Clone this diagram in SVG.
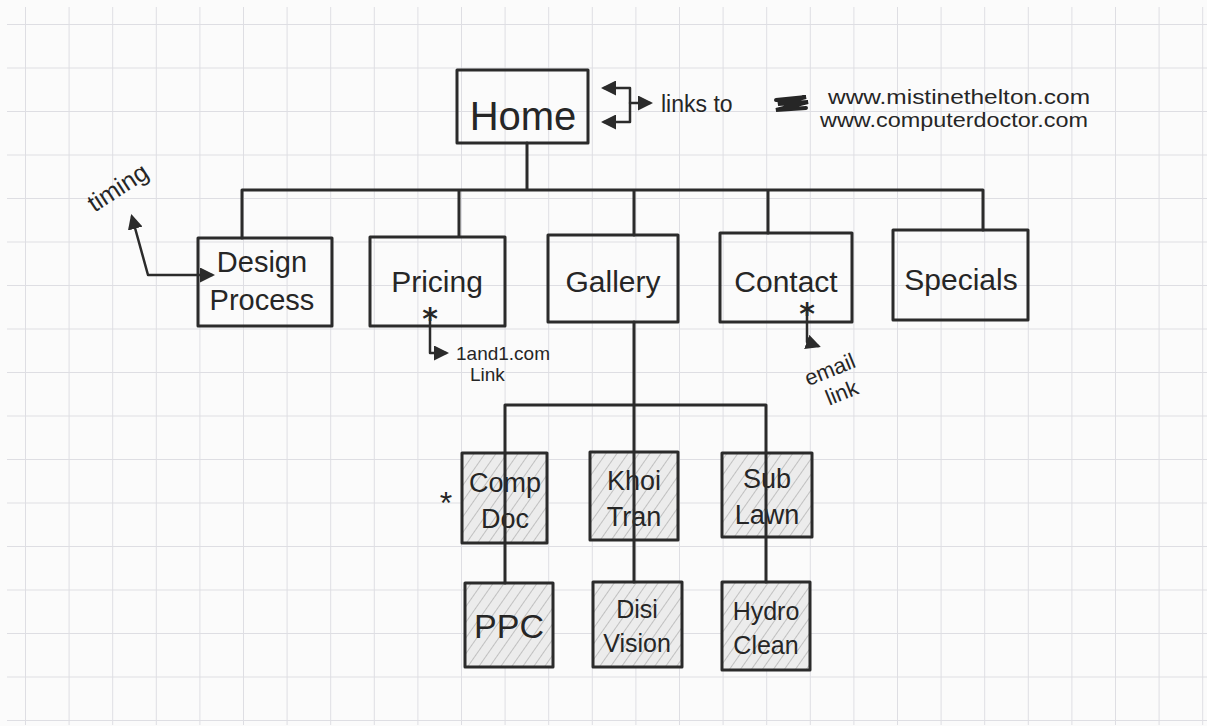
<svg xmlns="http://www.w3.org/2000/svg" width="1207" height="726" viewBox="0 0 1207 726">
<defs>
<pattern id="grid" patternUnits="userSpaceOnUse" x="25" y="24" width="43.6" height="43.5">
<path d="M0 0V43.5M0 0H43.6" fill="none" stroke="#dedee3" stroke-width="2"/>
</pattern>
<pattern id="hatch" patternUnits="userSpaceOnUse" width="9" height="9" patternTransform="rotate(35)">
<line x1="0" y1="0" x2="0" y2="9" stroke="#b5b5b5" stroke-width="1.6"/>
</pattern>
<marker id="ah" viewBox="0 0 10 10" refX="8" refY="5" markerWidth="6" markerHeight="6" orient="auto-start-reverse" markerUnits="strokeWidth">
<path d="M0 0L10 5L0 10Z" fill="#2b2b2b"/>
</marker>
<style>
.box{fill:none;stroke:#2b2b2b;stroke-width:3;stroke-linejoin:round}
.sub{fill:#ececec;stroke:none}
.hat{fill:url(#hatch);stroke:none}
.ln{fill:none;stroke:#2b2b2b;stroke-width:3;stroke-linecap:round;stroke-linejoin:round}
.an{fill:none;stroke:#2b2b2b;stroke-width:2.5;stroke-linecap:round;stroke-linejoin:round}
.t{font-family:"Liberation Sans","DejaVu Sans",sans-serif;fill:#262626;text-anchor:middle}
.lbl{font-size:30px}
.sm{font-size:27px}
.sm2{font-size:25px}
.note{font-family:"Liberation Sans","DejaVu Sans",sans-serif;fill:#262626}
.star{font-family:"DejaVu Sans",sans-serif;fill:#262626;text-anchor:middle;font-weight:bold}
</style>
</defs>
<rect x="0" y="0" width="1207" height="726" fill="#fbfbfb"/>
<rect x="7" y="7" width="1200" height="718" fill="url(#grid)"/>

<g id="home">
<rect class="box" x="457" y="70" width="131" height="73"/>
<text class="t" x="523" y="130" style="font-size:40px">Home</text>
</g>
<g id="home-links">
<path class="an" d="M604 88H630V122H604" marker-start="url(#ah)" marker-end="url(#ah)"/>
<path class="an" d="M630 103H650" marker-end="url(#ah)"/>
<text class="note" x="661" y="112" style="font-size:23px">links to</text>
<path d="M776 100L806 97L778 104L808 102L776 110L806 108" fill="none" stroke="#262626" stroke-width="4" stroke-linecap="round"/>
<text class="note" x="828" y="104" style="font-size:20px" textLength="262" lengthAdjust="spacingAndGlyphs">www.mistinethelton.com</text>
<text class="note" x="820" y="127" style="font-size:20px" textLength="268" lengthAdjust="spacingAndGlyphs">www.computerdoctor.com</text>
</g>

<g id="design">
<rect class="box" x="198" y="238" width="134" height="88"/>
<text class="t" x="262" y="272" style="font-size:29px">Design</text>
<text class="t" x="262" y="310" style="font-size:29px">Process</text>
</g>
<g id="timing">
<path class="an" d="M132 217L148 275H212" marker-start="url(#ah)" marker-end="url(#ah)"/>
<text class="note" x="118" y="196" style="font-size:25px" text-anchor="middle" transform="rotate(-33 118 188)">timing</text>
</g>

<g id="pricing">
<rect class="box" x="370" y="237" width="135" height="89"/>
<text class="t lbl" x="437" y="292">Pricing</text>
</g>
<g id="pricing-link">
<text class="star" x="430" y="329" style="font-size:30px">*</text>
<path class="an" d="M430 318V353H446" marker-end="url(#ah)"/>
<text class="note" x="456" y="360" style="font-size:19px">1and1.com</text>
<text class="note" x="470" y="381" style="font-size:19px">Link</text>
</g>

<g id="gallery">
<rect class="box" x="548" y="235" width="130" height="87"/>
<text class="t lbl" x="613" y="292">Gallery</text>
</g>

<g id="contact">
<rect class="box" x="720" y="233" width="132" height="89"/>
<text class="t lbl" x="786" y="292">Contact</text>
</g>
<g id="contact-link">
<text class="star" x="807" y="324" style="font-size:30px">*</text>
<path class="an" d="M807 312V342L818 346" marker-end="url(#ah)"/>
<text class="note" x="830" y="377" style="font-size:22px" text-anchor="middle" transform="rotate(-22 830 370)">email</text>
<text class="note" x="842" y="400" style="font-size:22px" text-anchor="middle" transform="rotate(-22 842 393)">link</text>
</g>

<g id="specials">
<rect class="box" x="893" y="230" width="135" height="90"/>
<text class="t lbl" x="961" y="290">Specials</text>
</g>

<g id="compdoc">
<rect class="sub" x="462" y="453" width="85" height="90"/>
<rect class="hat" x="462" y="453" width="85" height="90"/>
<rect class="box" x="462" y="453" width="85" height="90"/>
<text class="t sm" x="505" y="492">Comp</text>
<text class="t sm" x="505" y="528">Doc</text>
<text class="t" x="446" y="514" style="font-size:32px">*</text>
</g>
<g id="khoitran">
<rect class="sub" x="590" y="452" width="88" height="88"/>
<rect class="hat" x="590" y="452" width="88" height="88"/>
<rect class="box" x="590" y="452" width="88" height="88"/>
<text class="t sm" x="634" y="490">Khoi</text>
<text class="t sm" x="634" y="526">Tran</text>
</g>
<g id="sublawn">
<rect class="sub" x="722" y="453" width="90" height="84"/>
<rect class="hat" x="722" y="453" width="90" height="84"/>
<rect class="box" x="722" y="453" width="90" height="84"/>
<text class="t sm" x="767" y="488">Sub</text>
<text class="t sm" x="767" y="524">Lawn</text>
</g>
<g id="ppc">
<rect class="sub" x="465" y="583" width="88" height="84"/>
<rect class="hat" x="465" y="583" width="88" height="84"/>
<rect class="box" x="465" y="583" width="88" height="84"/>
<text class="t" x="509" y="638" style="font-size:34px">PPC</text>
</g>
<g id="disivision">
<rect class="sub" x="593" y="582" width="89" height="85"/>
<rect class="hat" x="593" y="582" width="89" height="85"/>
<rect class="box" x="593" y="582" width="89" height="85"/>
<text class="t sm2" x="637" y="618">Disi</text>
<text class="t sm2" x="637" y="652">Vision</text>
</g>
<g id="hydroclean">
<rect class="sub" x="722" y="582" width="88" height="88"/>
<rect class="hat" x="722" y="582" width="88" height="88"/>
<rect class="box" x="722" y="582" width="88" height="88"/>
<text class="t sm2" x="766" y="620">Hydro</text>
<text class="t sm2" x="766" y="654">Clean</text>
</g>

<g id="connectors">
<path class="ln" d="M527 143V190M242 190H983M242 190V238M459 190V236M634 190V235M768 190V233M983 190V230"/>
<path class="ln" d="M634 322V405M505 405H766M505 405V583M634 405V582M766 405V582"/>
</g>
</svg>
